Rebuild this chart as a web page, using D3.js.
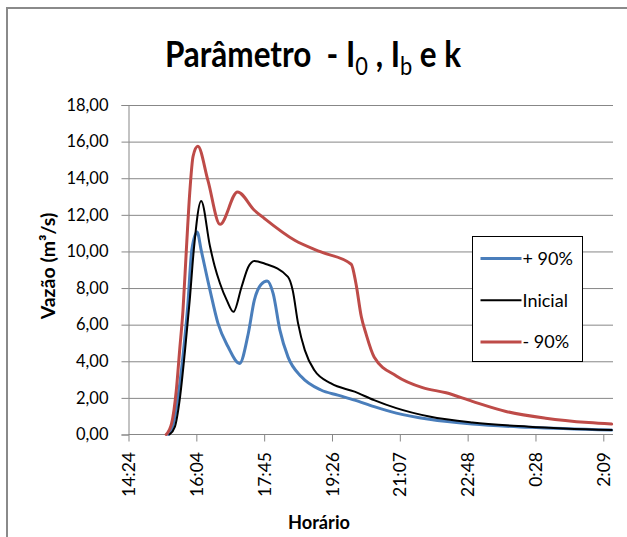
<!DOCTYPE html>
<html>
<head>
<meta charset="utf-8">
<script src="https://cdn.jsdelivr.net/npm/d3@7"></script>
<style>
  html, body { margin: 0; padding: 0; background: #fff; }
  svg { display: block; }
  text { font-family: Lato, "Open Sans", "Liberation Sans", sans-serif; fill: #000; }
</style>
</head>
<body>
<svg id="chart" width="627" height="537"></svg>
<script>
// ---------- data (time "HH:MM", flow m³/s) ----------
const plus90 = [
  ["15:23",0],["15:30",0.5],["15:37",1.9],["15:45",4.3],["15:52",7.0],["15:58",10.07],
  ["16:06",11.06],["16:12",10.07],["16:25",7.9],["16:37",6.07],["16:52",4.79],["17:09",3.88],
  ["17:22",5.52],["17:31",7.34],["17:41",8.2],["17:50",8.39],["17:59",7.7],["18:09",5.7],
  ["18:21",4.24],["18:41",3.15],["19:10",2.43],["19:35",2.15],["20:00",1.88],["20:29",1.52],
  ["21:02",1.17],["21:51",0.83],["22:55",0.57],["0:19",0.39],["2:22",0.24]
];
const inicial = [
  ["15:25",0],["15:33",0.43],["15:40",1.88],["15:48",4.6],["15:55",7.34],["16:01",10.07],
  ["16:12",12.76],["16:25",10.3],["16:32",9.2],["16:40",8.25],["16:50",7.34],["17:00",6.7],
  ["17:12",8.06],["17:22",9.15],["17:31",9.48],["17:46",9.34],["18:21",8.61],["18:28",7.88],
  ["18:36",6.07],["18:46",4.61],["19:00",3.52],["19:25",2.79],["20:00",2.34],["20:29",1.88],
  ["21:02",1.44],["21:51",0.98],["22:55",0.65],["0:19",0.43],["2:22",0.24]
];
const minus90 = [
  ["15:20",0],["15:28",0.6],["15:35",2.4],["15:40",4.6],["15:45",6.8],["15:50",10.1],
  ["15:55",13.2],["16:00",15.2],["16:07",15.74],["16:22",13.88],["16:40",11.48],["17:06",13.25],
  ["17:31",12.25],["17:46",11.8],["18:31",10.61],["19:10",9.97],["19:55",9.3],["20:02",8.25],
  ["20:10",6.43],["20:17",5.5],["20:29",4.24],["21:02",3.2],["21:41",2.56],["22:16",2.28],
  ["22:55",1.81],["23:45",1.26],["0:44",0.89],["1:48",0.65],["2:22",0.57]
];
const seriesNames = ["+ 90%", "Inicial", "- 90%"];
const seriesColors = ["#4A7EBB", "#000000", "#BE4B48"];
const xTickLabels = ["14:24","16:04","17:45","19:26","21:07","22:48","0:28","2:09"];
const yTicks = [0,2,4,6,8,10,12,14,16,18];

// ---------- helpers ----------
function toDay(s) {            // "HH:MM" -> fraction of day (after midnight = next day)
  const [h, m] = s.split(":").map(Number);
  let d = (h * 60 + m) / 1440;
  if (h < 12) d += 1;
  return d;
}
const fmt = d3.formatLocale({decimal: ",", thousands: ".", grouping: [3], currency: ["", ""]}).format(".2f");

const svg = d3.select("#chart");
const pL = 128.5, pR = 613, pT = 105, pB = 434.5;

const x = d3.scaleLinear().domain([0.6, 1.1]).range([pL, pR]);
const y = d3.scaleLinear().domain([0, 18]).range([pB, pT]);
const xTickVals = xTickLabels.map((_, i) => 0.6 + 0.07 * i);

// outer frame
svg.append("rect").attr("x", 7).attr("y", 8).attr("width", 660).attr("height", 600)
  .attr("fill", "#fff").attr("stroke", "#8a8a8a").attr("stroke-width", 2);

// gridlines
svg.append("g").attr("transform", `translate(${pL},0)`)
  .call(d3.axisLeft(y).tickValues(yTicks.filter(v => v > 0)).tickSize(-(pR - pL)).tickFormat(""))
  .call(g => g.select(".domain").remove())
  .call(g => g.selectAll("line").attr("stroke", "#878787").attr("stroke-width", 1));

// y axis
svg.append("g").attr("transform", `translate(${pL},0)`)
  .call(d3.axisLeft(y).tickValues(yTicks).tickSize(7).tickPadding(13).tickFormat(fmt))
  .call(g => g.select(".domain").attr("stroke", "#878787"))
  .call(g => g.selectAll("line").attr("stroke", "#878787"))
  .call(g => g.selectAll("text").style("font-size", "16.5px").style("font-family", "Lato, sans-serif"));

// x axis
svg.append("g").attr("transform", `translate(0,${pB})`)
  .call(d3.axisBottom(x).tickValues(xTickVals).tickSize(7).tickFormat((d, i) => xTickLabels[i]))
  .call(g => g.select(".domain").attr("stroke", "#878787").attr("d", `M${pL},0H${pR}`))
  .call(g => g.selectAll("line").attr("stroke", "#878787"))
  .call(g => g.selectAll("text")
      .attr("transform", "rotate(-90)")
      .attr("x", -17.5).attr("y", 0).attr("dy", "0.35em")
      .style("text-anchor", "end").style("font-size", "17.5px").style("font-family", "Lato, sans-serif"));

// lines
const line = d3.line().x(d => x(toDay(d[0]))).y(d => y(d[1])).curve(d3.curveMonotoneX);
const allSeries = [plus90, inicial, minus90];
const widths = [3, 2, 3];
allSeries.forEach((s, i) => {
  svg.append("path").datum(s).attr("d", line)
    .attr("fill", "none").attr("stroke", seriesColors[i]).attr("stroke-width", widths[i])
    .attr("stroke-linejoin", "round").attr("stroke-linecap", "round");
});

// legend
const lg = svg.append("g");
lg.append("rect").attr("x", 472.5).attr("y", 236.5).attr("width", 110).attr("height", 125)
  .attr("fill", "#fff").attr("stroke", "#000").attr("stroke-width", 1);
seriesNames.forEach((n, i) => {
  const yy = 258.5 + i * 41.7;
  lg.append("line").attr("x1", 480.5).attr("x2", 521.5).attr("y1", yy).attr("y2", yy)
    .attr("stroke", seriesColors[i]).attr("stroke-width", widths[i]);
  lg.append("text").attr("x", 522.5).attr("y", yy).attr("dy", "0.36em")
    .style("font-size", "18px").text(n);
});

// fit text horizontally to a width
function fitWidth(sel, cx, target) {
  const w = sel.node().getBBox().width;
  sel.attr("transform", `translate(${cx},0) scale(${target / w},1) translate(${-cx},0)`);
}

// title
const NB = "\u00A0";
const title = svg.append("text").attr("x", 313).attr("y", 66.7).attr("text-anchor", "middle")
  .style("font-size", "36px").style("font-weight", "bold");
title.append("tspan").text("Parâmetro" + NB + NB + "-" + NB + "I");
title.append("tspan").attr("dy", 8).style("font-size", "25px").style("font-weight", "normal").text("0");
title.append("tspan").attr("dy", -8).text(NB + "," + NB + "I");
title.append("tspan").attr("dy", 8).style("font-size", "25px").style("font-weight", "normal").text("b");
title.append("tspan").attr("dy", -8).text(NB + "e" + NB + "k");
fitWidth(title, 313, 297);

// y label
svg.append("text").attr("transform", "translate(55,266) rotate(-90)")
  .attr("text-anchor", "middle").style("font-size", "19.5px").style("font-weight", "bold")
  .text("Vazão (m³/s)");

// x label
const xl = svg.append("text").attr("x", 319).attr("y", 529).attr("text-anchor", "middle")
  .style("font-size", "18px").style("font-weight", "bold").text("Horário");
fitWidth(xl, 319, 62);
</script>
</body>
</html>
